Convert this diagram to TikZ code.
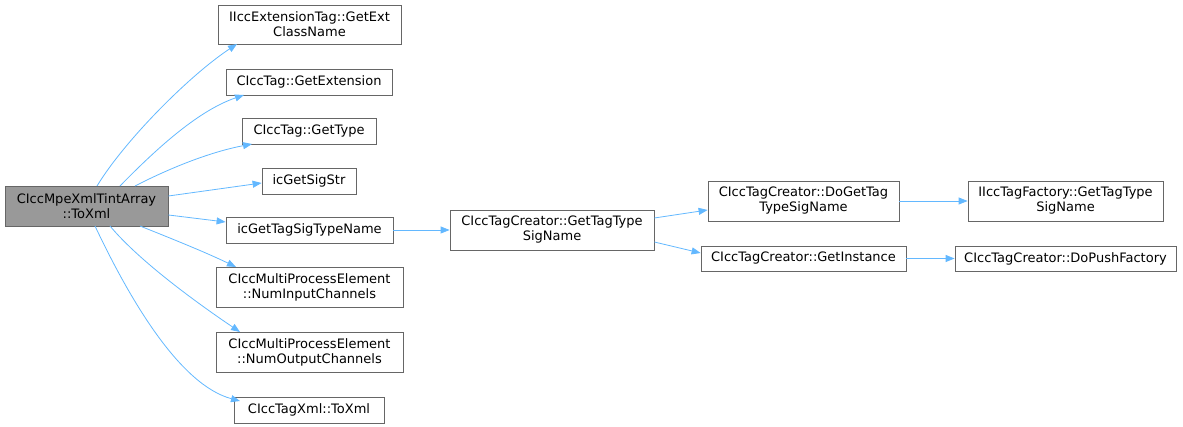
\documentclass[tikz,border=0pt]{standalone}
\usepackage{fontspec}
\setmainfont{DejaVu Sans}
\usetikzlibrary{arrows.meta}
\definecolor{edgec}{HTML}{63B8FF}
\definecolor{boxc}{HTML}{666666}
\tikzset{
  fn/.style={draw=boxc, fill=white, line width=0.8pt, inner sep=0pt, align=center, font=\fontsize{13}{15}\selectfont, text=black},
  root/.style={fn, fill=black!40},
  call/.style={draw=edgec, line width=0.8pt, -{Triangle[length=9pt,width=7pt]}},
}
\begin{document}
\begin{tikzpicture}[x=1pt,y=-1pt]
\useasboundingbox (0,0) rectangle (1183,427);
\node[root, minimum width=163pt, minimum height=40pt] (root) at (86.5,206) {CIccMpeXmlTintArray\\::ToXml};
\node[fn, minimum width=183pt, minimum height=39pt] (a1) at (309.5,24.5) {IIccExtensionTag::GetExt\\ClassName};
\node[fn, minimum width=166pt, minimum height=26pt] (a2) at (309,82) {CIccTag::GetExtension};
\node[fn, minimum width=134pt, minimum height=26pt] (a3) at (309,131) {CIccTag::GetType};
\node[fn, minimum width=94pt, minimum height=26pt] (a4) at (309,181) {icGetSigStr};
\node[fn, minimum width=167pt, minimum height=26pt] (a5) at (309.5,230) {icGetTagSigTypeName};
\node[fn, minimum width=187pt, minimum height=40pt] (a6) at (309.5,287) {CIccMultiProcessElement\\::NumInputChannels};
\node[fn, minimum width=187pt, minimum height=40pt] (a7) at (309.5,352) {CIccMultiProcessElement\\::NumOutputChannels};
\node[fn, minimum width=150pt, minimum height=26pt] (a8) at (309,410) {CIccTagXml::ToXml};
\node[fn, minimum width=204pt, minimum height=40pt] (b1) at (552,230) {CIccTagCreator::GetTagType\\SigName};
\node[fn, minimum width=191pt, minimum height=40pt] (c1) at (803.5,201) {CIccTagCreator::DoGetTag\\TypeSigName};
\node[fn, minimum width=205pt, minimum height=25pt] (c2) at (803.5,258.5) {CIccTagCreator::GetInstance};
\node[fn, minimum width=195pt, minimum height=40pt] (d1) at (1065.5,201) {IIccTagFactory::GetTagType\\SigName};
\node[fn, minimum width=221pt, minimum height=25pt] (d2) at (1065.5,258.5) {CIccTagCreator::DoPushFactory};

\coordinate (r1) at (97,186);
\coordinate (r2) at (120,186);
\coordinate (r3) at (135,186);
\coordinate (r6) at (140,226);
\coordinate (r7) at (110,226);
\coordinate (r8) at (95,226);
\draw[call] (r1) .. controls (125,140) and (190,75) .. (237,44);
\draw[call] (r2) .. controls (160,145) and (200,110) .. (244,95);
\draw[call] (r3) .. controls (170,168) and (210,152) .. (252,144);
\draw[call] (root.east |- 0,196) -- (a4.west |- 0,183);
\draw[call] (root.east |- 0,215) -- (a5.west |- 0,222);
\draw[call] (r6) .. controls (170,238) and (205,252) .. (236,267);
\draw[call] (r7) .. controls (140,262) and (200,305) .. (240,332);
\draw[call] (r8) .. controls (130,300) and (180,385) .. (240,401);
\draw[call] (a5) -- (b1);
\draw[call] (b1.east |- 0,218) -- (c1.west |- 0,210);
\draw[call] (b1.east |- 0,242) -- (c2.west |- 0,253);
\draw[call] (c1) -- (d1);
\draw[call] (c2) -- (d2);
\end{tikzpicture}
\end{document}
